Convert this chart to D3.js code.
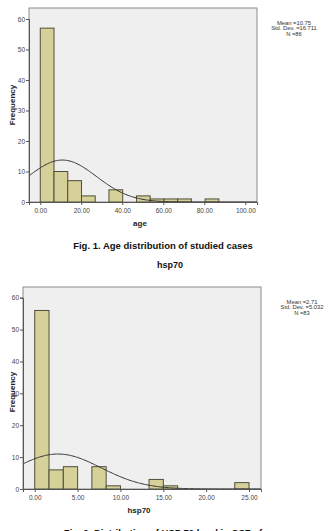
<!DOCTYPE html>
<html>
<head>
<meta charset="utf-8">
<script src="https://cdn.jsdelivr.net/npm/d3@7"></script>
<style>
  body { margin: 0; background: #fff; font-family: "Liberation Sans", Arial, sans-serif; }
  svg { display: block; }
</style>
</head>
<body>
<svg id="chart" width="334" height="531"></svg>
<script>
// age histogram
const ageBinStart = 0;
const ageBinWidth = 6.7;
const ageCounts = [57, 10, 7, 2, 0, 4, 0, 2, 1, 1, 1, 0, 1];
const ageTicks = [0, 20, 40, 60, 80, 100];
const ageStats = { mean: 10.75, sd: 16.711, n: 86 };

// hsp70 histogram
const hspBinStart = 0;
const hspBinWidth = 1.667;
const hspCounts = [56, 6, 7, 0, 7, 1, 0, 0, 3, 1, 0, 0, 0, 0, 2];
const hspTicks = [0, 5, 10, 15, 20, 25];
const hspStats = { mean: 2.71, sd: 5.032, n: 83 };

const freqTicks = [0, 10, 20, 30, 40, 50, 60];

const svg = d3.select("#chart");

function drawHist(opt) {
    const g = svg.append("g");
    const x = d3.scaleLinear().domain(opt.xDomain).range([opt.left, opt.right]);
    const y = d3.scaleLinear().domain([0, 60]).range([opt.bottom, opt.y60]);

    // plot background
    g.append("rect")
        .attr("x", opt.left).attr("y", opt.top)
        .attr("width", opt.right - opt.left).attr("height", opt.bottom - opt.top)
        .attr("fill", "#efefef")
        .attr("stroke", "#8c8c8c")
        .attr("stroke-width", 1);

    const bins = opt.counts.map((c, i) => ({
        x0: opt.binStart + i * opt.binWidth,
        x1: opt.binStart + (i + 1) * opt.binWidth,
        count: c
    })).filter(d => d.count > 0);

    g.selectAll("rect.bar")
        .data(bins)
        .enter()
        .append("rect")
        .attr("class", "bar")
        .attr("x", d => x(d.x0))
        .attr("y", d => y(d.count))
        .attr("width", d => x(d.x1) - x(d.x0))
        .attr("height", d => y(0) - y(d.count))
        .attr("fill", "#d5d199")
        .attr("stroke", "#4f4e3c")
        .attr("stroke-width", 1);

    // fitted normal curve from the stats shown
    const s = opt.stats;
    const scale = s.n * opt.binWidth / (s.sd * Math.sqrt(2 * Math.PI));
    const xs = d3.range(0, 201).map(i => opt.xDomain[0] + (opt.xDomain[1] - opt.xDomain[0]) * i / 200);
    g.append("path")
        .datum(xs)
        .attr("fill", "none")
        .attr("stroke", "#333")
        .attr("stroke-width", 1)
        .attr("d", d3.line()
            .x(d => x(d))
            .y(d => y(scale * Math.exp(-0.5 * Math.pow((d - s.mean) / s.sd, 2))))
        );

    // axes
    const yAxis = g.append("g")
        .attr("transform", `translate(${opt.left},0)`)
        .call(d3.axisLeft(y).tickValues(freqTicks).tickSize(3).tickPadding(1));
    const xAxis = g.append("g")
        .attr("transform", `translate(0,${opt.bottom})`)
        .call(d3.axisBottom(x).tickValues(opt.ticks).tickSize(3).tickPadding(3).tickFormat(d3.format(".2f")));
    [yAxis, xAxis].forEach(a => {
        a.select(".domain").attr("stroke", "#555");
        a.selectAll(".tick line").attr("stroke", "#555");
        a.selectAll("text")
            .attr("fill", "#444")
            .style("font-size", "6.5px")
            .style("font-family", "Liberation Sans, Arial, sans-serif");
    });

    // axis titles
    g.append("text")
        .attr("transform", `translate(15,${opt.freqY}) rotate(-90)`)
        .attr("text-anchor", "middle")
        .style("font-size", "8px").style("font-weight", "bold")
        .attr("fill", "#222")
        .text("Frequency");
    g.append("text")
        .attr("x", (opt.left + opt.right) / 2 - 3).attr("y", opt.bottom + 24)
        .attr("text-anchor", "middle")
        .style("font-size", "8px").style("font-weight", "bold")
        .attr("fill", "#222")
        .text(opt.xLabel);

    // stats box
    const lines = [
        `Mean =${s.mean}`,
        `Std. Dev. =${s.sd}`,
        `N =${s.n}`
    ];
    g.selectAll("text.stat")
        .data(lines)
        .enter()
        .append("text")
        .attr("class", "stat")
        .attr("x", opt.statX)
        .attr("y", (d, i) => opt.statY + i * 5.3)
        .attr("text-anchor", "middle")
        .style("font-size", "5.8px")
        .attr("fill", "#333")
        .text(d => d);
}

drawHist({
    counts: ageCounts, binStart: ageBinStart, binWidth: ageBinWidth,
    ticks: ageTicks, stats: ageStats, xLabel: "age",
    xDomain: [-5.5, 105.7], left: 29, right: 257,
    top: 8, bottom: 202, y60: 19,
    freqY: 105, statX: 294, statY: 25
});

drawHist({
    counts: hspCounts, binStart: hspBinStart, binWidth: hspBinWidth,
    ticks: hspTicks, stats: hspStats, xLabel: "hsp70",
    xDomain: [-1.37, 26.4], left: 23, right: 261,
    top: 287, bottom: 489, y60: 297.7,
    freqY: 392, statX: 302, statY: 304
});

svg.append("text")
    .attr("x", 163).attr("y", 248.5)
    .attr("text-anchor", "middle")
    .style("font-size", "9.5px").style("font-weight", "bold")
    .attr("fill", "#111")
    .text("Fig. 1. Age distribution of studied cases");

svg.append("text")
    .attr("x", 170).attr("y", 268)
    .attr("text-anchor", "middle")
    .style("font-size", "9px").style("font-weight", "bold")
    .attr("fill", "#111")
    .text("hsp70");

svg.append("text")
    .attr("x", 163).attr("y", 536)
    .attr("text-anchor", "middle")
    .style("font-size", "9.5px").style("font-weight", "bold")
    .attr("fill", "#111")
    .text("Fig. 2. Distribution of HSP 70 level in CSF of");
</script>
</body>
</html>
